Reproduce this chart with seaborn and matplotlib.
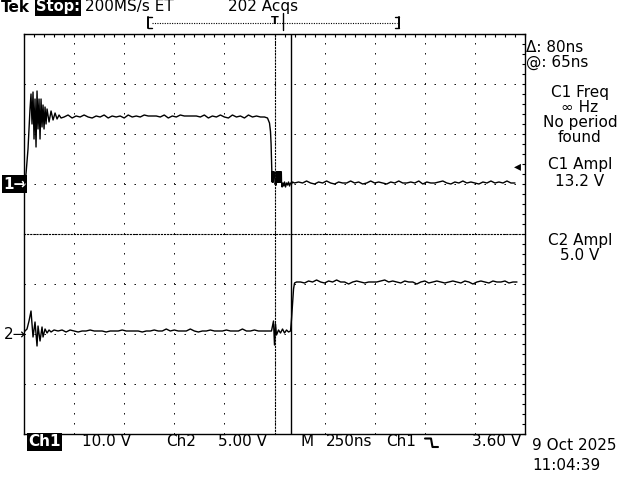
import numpy as np
import pandas as pd
import matplotlib
matplotlib.use("Agg")
import matplotlib.pyplot as plt
import matplotlib.transforms as mtransforms
import seaborn as sns

ch1_scale = 10.0      # V/div
ch2_scale = 5.0       # V/div
ch1_offset = 1.0      # div (ground marker 1)
ch2_offset = -2.0     # div (ground marker 2)
time_div = 250        # ns/div
trig_level = 3.60     # V on Ch1
cursor_t = 80         # ns

# ---------------- Ch1 waveform (ns, V) ----------------
ch1_ring_t = [-1250, -1240, -1230, -1220, -1215, -1210, -1205, -1200, -1195, -1190,
              -1185, -1180, -1175, -1170, -1165, -1160, -1155, -1150, -1145, -1140,
              -1135, -1125, -1115, -1105, -1095, -1085, -1075, -1065]
ch1_ring_v = [0.0, 2.0, 7.0, 15.0, 18.0, 12.0, 18.4, 9.0, 17.0, 7.4,
              18.6, 11.0, 17.0, 9.0, 17.0, 11.4, 15.8, 11.0, 15.4, 12.0,
              15.0, 12.4, 14.6, 12.8, 14.2, 13.0, 13.8, 13.2]
ch1_high_t = list(range(-1050, -49, 20))
ch1_high_v = [13.4, 13.8, 13.2, 13.6, 13.4, 13.8, 13.4, 13.2, 13.6, 13.4,
              13.8, 13.2, 13.6, 13.4, 13.6, 13.2, 13.8, 13.4, 13.6, 13.4,
              13.8, 13.6, 13.6, 13.6, 13.4, 13.8, 13.2, 13.6, 13.4, 13.8,
              13.6, 13.6, 13.6, 13.6, 13.4, 13.8, 13.2, 13.6, 13.4, 13.8,
              13.4, 13.2, 13.8, 13.4, 13.6, 13.2, 13.8, 13.4, 13.6, 13.4, 13.4]
ch1_edge_t = [-35, -25, -20, -17, -15, -13, -12, -11, -10, -9, -8, -7, -6, -5,
              0, 3, 6, 9,
              10, 11, 12, 13, 14, 15, 16, 17, 18, 19, 20, 21, 22, 23, 24, 25, 26,
              27, 28, 29, 30, 31, 32, 33, 34, 35,
              38, 42, 46, 50, 55, 60, 65, 70, 75, 80, 85, 90]
ch1_edge_v = [13.2, 12.2, 10.5, 8.0, 5.0, 2.4, 0.4, 2.4, 0.4, 2.4, 0.4, 2.4, 0.4, 2.4,
              2.4, 0.0, 0.2, -0.2,
              2.4, 0.4, 2.4, 0.4, 2.4, 0.4, 2.4, 0.4, 2.4, 0.4, 2.4, 0.4, 2.4, 0.4,
              2.4, 0.4, 2.4, 0.4, 2.4, 0.4, 2.4, 0.4, 2.4, 0.4, 2.4, 0.4,
              -0.6, 0.2, -0.4, 0.4, -0.6, 0.2, -0.2, 0.4, -0.4, 0.2, 0.0, 0.4]
ch1_low_t = list(range(100, 1201, 20))
ch1_low_v = [0.2, 0.4, 0.2, 0.6, 0.2, 0.0, 0.4, 0.2, 0.6, 0.2, 0.0, 0.4, 0.2, 0.2,
             0.6, 0.2, 0.4, 0.0, 0.2, 0.6, 0.2, 0.4, 0.2, 0.0, 0.4, 0.2, 0.6, 0.2,
             0.2, 0.4, 0.2, 0.6, 0.0, 0.4, 0.2, 0.2, 0.4, 0.6, 0.2, 0.0, 0.4, 0.2,
             0.6, 0.2, 0.4, 0.2, 0.0, 0.4, 0.2, 0.6, 0.2, 0.4, 0.2, 0.6, 0.2, 0.2]

# ---------------- Ch2 waveform (ns, V) ----------------
ch2_ring_t = [-1250, -1235, -1225, -1215, -1205, -1195, -1185, -1180, -1170, -1160,
              -1155, -1145, -1135, -1125, -1115, -1100]
ch2_ring_v = [0.2, 0.5, 1.3, 2.3, -0.3, 1.2, -1.2, 0.8, -0.7, 0.7,
              -0.3, 0.5, 0.1, 0.4, 0.2, 0.4]
ch2_low_t = list(range(-1080, -59, 20))
ch2_low_v = [0.3, 0.4, 0.2, 0.4, 0.3, 0.2, 0.3, 0.3, 0.4, 0.3, 0.3, 0.3, 0.2,
             0.3, 0.3, 0.3, 0.4, 0.3, 0.3, 0.3, 0.3, 0.2, 0.3, 0.3, 0.4, 0.3,
             0.3, 0.5, 0.3, 0.4, 0.3, 0.3, 0.3, 0.5, 0.3, 0.2, 0.3, 0.3, 0.4,
             0.3, 0.3, 0.3, 0.4, 0.3, 0.3, 0.3, 0.5, 0.3, 0.3, 0.4, 0.3, 0.3]
ch2_edge_t = [-40, -15, -5, 0, 5, 10, 20, 30, 40, 50, 60, 70, 80, 85, 90, 95, 100, 110]
ch2_edge_v = [0.3, 0.3, 1.3, -1.1, 1.0, -0.1, 0.4, 0.1, 0.5, 0.1, 0.4, 0.2, 0.3,
              1.5, 3.0, 4.5, 5.1, 5.2]
ch2_high_t = list(range(130, 1211, 20))
ch2_high_v = [5.2, 5.1, 5.3, 5.2, 5.4, 5.2, 5.1, 5.3, 5.2, 5.4, 5.2, 5.2, 5.0, 5.2,
              5.3, 5.2, 5.1, 5.2, 5.2, 5.2, 5.3, 5.4, 5.2, 5.3, 5.2, 5.1, 5.3, 5.2,
              5.2, 5.0, 5.2, 5.3, 5.1, 5.2, 5.3, 5.2, 5.1, 5.2, 5.3, 5.2, 5.1, 5.3,
              5.2, 5.0, 5.2, 5.3, 5.2, 5.1, 5.3, 5.2, 5.2, 5.3, 5.1, 5.2, 5.2]

ch1 = pd.DataFrame({"t": ch1_ring_t + ch1_high_t + ch1_edge_t + ch1_low_t,
                    "v": ch1_ring_v + ch1_high_v + ch1_edge_v + ch1_low_v})
ch2 = pd.DataFrame({"t": ch2_ring_t + ch2_low_t + ch2_edge_t + ch2_high_t,
                    "v": ch2_ring_v + ch2_low_v + ch2_edge_v + ch2_high_v})
ch1["div"] = ch1["v"] / ch1_scale + ch1_offset
ch2["div"] = ch2["v"] / ch2_scale + ch2_offset

# ---------------- figure ----------------
sns.set_style("white")
plt.rcParams["font.family"] = ["DejaVu Sans"]
fig = plt.figure(figsize=(6.4, 4.8), dpi=100)
fig.patch.set_facecolor("white")

W, H = 640.0, 480.0
L, R, TOP, BOT = 24, 525, 34, 434
pos = [L / W, 1 - BOT / H, (R - L) / W, (BOT - TOP) / H]
ax = fig.add_axes(pos)
xmax = 5 * time_div
ax.set_xlim(-xmax, xmax)
ax.set_ylim(-4, 4)

sns.lineplot(data=ch1, x="t", y="div", ax=ax, color="black", linewidth=1.0,
             estimator=None, sort=False, legend=False, zorder=5)
sns.lineplot(data=ch2, x="t", y="div", ax=ax, color="black", linewidth=1.0,
             estimator=None, sort=False, legend=False, zorder=5)
ax.axvline(cursor_t, color="black", linewidth=1.0, zorder=6)

ax.set_xlabel("")
ax.set_ylabel("")
ax.set_xticks(np.arange(-xmax + time_div, xmax, time_div))
ax.set_yticks(np.arange(-3, 4, 1))
ax.set_xticks(np.arange(-xmax, xmax + 1, time_div / 5), minor=True)
ax.set_yticks(np.arange(-4, 4.01, 0.2), minor=True)
ax.tick_params(which="both", direction="in", length=2.0, width=0.8, color="black",
               top=True, right=True, labelbottom=False, labelleft=False)
ax.grid(True, which="major", color="black", linestyle=(0, (1.4, 8.6)), linewidth=0.72)
for s in ax.spines.values():
    s.set_color("black")
    s.set_linewidth(1.0)

# centre cross with ticks
ac = fig.add_axes(pos)
ac.set_xlim(-xmax, xmax)
ac.set_ylim(-4, 4)
ac.patch.set_visible(False)
ac.spines["left"].set_position(("data", 0))
ac.spines["bottom"].set_position(("data", 0))
ac.spines["top"].set_visible(False)
ac.spines["right"].set_visible(False)
for k in ("left", "bottom"):
    ac.spines[k].set_linestyle((0, (1, 1.8)))
    ac.spines[k].set_linewidth(0.8)
    ac.spines[k].set_color("black")
ac.set_xticks(np.arange(-xmax, xmax + 1, time_div / 5))
ac.set_yticks(np.arange(-4, 4.01, 0.2))
ac.tick_params(which="both", direction="inout", length=4, width=0.8, color="black",
               labelbottom=False, labelleft=False)

# ---------------- annotations in pixel space ----------------
ov = fig.add_axes([0, 0, 1, 1], zorder=10)
ov.set_xlim(0, W)
ov.set_ylim(H, 0)
ov.axis("off")
ov.patch.set_alpha(0)

FS = 11
inv = dict(boxstyle="square,pad=0.08", fc="black", ec="none")

def txt(x, y, s, ha="left", size=FS, **kw):
    ov.text(x, y, s, ha=ha, va="center", fontsize=size, color=kw.pop("color", "black"), **kw)

# top line
txt(1, 7, "Tek", fontweight="bold")
txt(36, 7, "Stop:", color="white", fontweight="bold", bbox=inv, size=10.5)
txt(85, 7, "200MS/s ET")
txt(228, 7, "202 Acqs")
# record bracket
ov.plot([148, 148], [17, 28], color="black", lw=1.4)
ov.plot([148, 152], [17, 17], color="black", lw=1)
ov.plot([148, 152], [28, 28], color="black", lw=1)
ov.plot([152, 397], [22.5, 22.5], color="black", lw=0.8, linestyle=(0, (1, 1.2)))
ov.plot([399, 399], [17, 28], color="black", lw=1.4)
ov.plot([395, 399], [17, 17], color="black", lw=1)
ov.plot([395, 399], [28, 28], color="black", lw=1)
txt(275, 21, "T", ha="center", size=8, fontweight="bold")
ov.plot([283, 283], [13, 30], color="black", lw=1)

# right panel
txt(526, 47, "\u0394: 80ns")
txt(526, 62, "@: 65ns")
txt(580, 93, "C1 Freq", ha="center")
txt(580, 108, "\u221e Hz", ha="center")
txt(580, 123, "No period", ha="center")
txt(580, 138, "found", ha="center")
txt(580, 165, "C1 Ampl", ha="center")
txt(580, 181, "13.2 V", ha="center")
txt(580, 240, "C2 Ampl", ha="center")
txt(580, 255, "5.0 V", ha="center")

# bottom line
txt(28, 442, "Ch1", color="white", bbox=inv, fontweight="bold")
txt(82, 442, "10.0 V")
txt(166, 442, "Ch2")
txt(218, 442, "5.00 V")
txt(300, 442, "M")
txt(326, 442, "250ns")
txt(386, 442, "Ch1")
ov.plot([425, 431, 432.5, 438], [438.5, 438.5, 447, 447], color="black", lw=1.5)
txt(521, 442, "3.60 V", ha="right")
txt(532, 446, "9 Oct 2025")
txt(532, 466, "11:04:39")

# channel ground markers and trigger level arrow (data y)
bt = mtransforms.blended_transform_factory(fig.transFigure, ax.transData)
ax.text(3 / W, ch1_offset, "1\u2192", transform=bt, ha="left", va="center",
        fontsize=FS, color="white", fontweight="bold", bbox=inv, clip_on=False)
ax.text(4 / W, ch2_offset, "2\u2192", transform=bt, ha="left", va="center",
        fontsize=FS, color="black", clip_on=False)
ax.text(521 / W, trig_level / ch1_scale + ch1_offset, "\u25c2", transform=bt,
        ha="right", va="center", fontsize=10, color="black", clip_on=False)

fig.savefig("out.png", dpi=100, facecolor="white")
